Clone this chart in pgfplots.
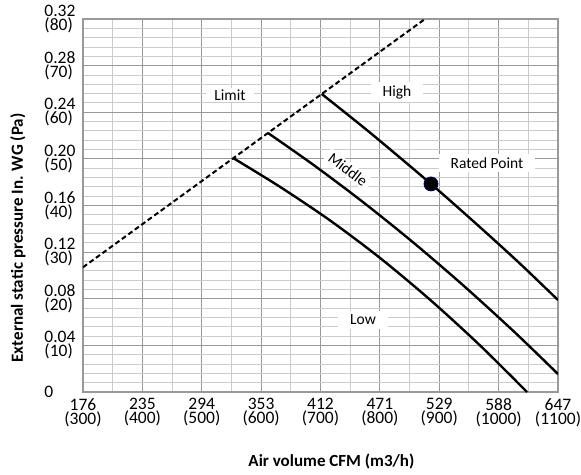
\documentclass[border=0pt]{standalone}
\usepackage{fontspec}
\setmainfont{Carlito}
\usepackage{pgfplots}
\pgfplotsset{compat=1.18}
\begin{document}
\begin{tikzpicture}
\begin{axis}[
  scale only axis, width=475pt, height=373pt,
  xmin=300, xmax=1100, ymin=0, ymax=0.32,
  xtick={300,400,500,600,700,800,900,1000,1100},
  xticklabels={{176\\(300)},{235\\(400)},{294\\(500)},{353\\(600)},{412\\(700)},{471\\(800)},{529\\(900)},{588\\(1000)},{647\\(1100)}},
  ytick={0,0.04,0.08,0.12,0.16,0.2,0.24,0.28,0.32},
  yticklabels={0,{0.04\\(10)},{0.08\\(20)},{0.12\\(30)},{0.16\\(40)},{0.20\\(50)},{0.24\\(60)},{0.28\\(70)},{0.32\\(80)}},
  minor x tick num=1, minor y tick num=4,
  grid=both,
  major grid style={draw=black!40, line width=1.1pt},
  minor grid style={draw=black!20, line width=0.9pt},
  axis line style={draw=black!40, line width=1.1pt},
  major tick length=0pt, minor tick length=0pt,
  xticklabel style={font=\fontsize{17.5}{14}\selectfont, align=center, yshift=-3pt},
  yticklabel style={font=\fontsize{17.5}{14}\selectfont, align=left, text width=33pt, xshift=-2pt},
  xlabel={\textbf{Air volume CFM (m3/h)}},
  ylabel={\textbf{External static pressure In. WG (Pa)}},
  xlabel style={font=\fontsize{17}{17}\selectfont, at={(axis description cs:0.523,-0.185)}, anchor=center},
  ylabel style={font=\fontsize{17}{17}\selectfont, at={(axis description cs:-0.137,0.413)}, anchor=center},
  label style={inner sep=0pt},
]
% limit line
\addplot[black, line width=2pt, dash pattern=on 5pt off 3pt] coordinates {(300,0.107) (876,0.32)};
% low
\addplot[black, line width=2.4pt, smooth] coordinates {
  (552.6,0.2008) (631.8,0.1760) (716.0,0.1472) (800.2,0.1150) (884.4,0.0792) (968.6,0.0400) (1047.8,0)};
% middle
\addplot[black, line width=2.4pt, smooth] coordinates {
  (611.6,0.2222) (690.7,0.1939) (774.9,0.1616) (859.2,0.1270) (943.4,0.0901) (1027.6,0.0510) (1100,0.0154)};
% high
\addplot[black, line width=2.4pt, smooth] coordinates {
  (702.0,0.2557) (783.4,0.2225) (886.1,0.1785) (968.6,0.1414) (1036.0,0.1101) (1100,0.0789)};
% rated point
\addplot[only marks, mark=*, mark size=7pt, mark options={fill=black, draw=blue!40!black, line width=0.8pt}] coordinates {(886.1,0.1785)};
\node[fill=white, font=\fontsize{15.5}{15.5}\selectfont, inner xsep=8pt, inner ysep=2pt] at (axis cs:547.6,0.2548) {Limit};
\node[fill=white, font=\fontsize{15.5}{15.5}\selectfont, inner xsep=12pt, inner ysep=3pt] at (axis cs:828.8,0.2574) {High};
\node[fill=white, font=\fontsize{15.5}{15.5}\selectfont, inner xsep=4pt, inner ysep=2pt, rotate=-37] at (axis cs:746.3,0.1905) {Middle};
\node[fill=white, font=\fontsize{15.5}{15.5}\selectfont, inner xsep=12pt, inner ysep=4pt] at (axis cs:980.4,0.1965) {Rated Point};
\node[fill=white, font=\fontsize{15.5}{15.5}\selectfont, inner xsep=12pt, inner ysep=4pt] at (axis cs:771.6,0.0618) {Low};
\end{axis}
\pgfresetboundingbox
\path ([shift={(-83pt,-82pt)}]current axis.south west) rectangle ([shift={(23pt,19pt)}]current axis.north east);
\end{tikzpicture}
\end{document}
